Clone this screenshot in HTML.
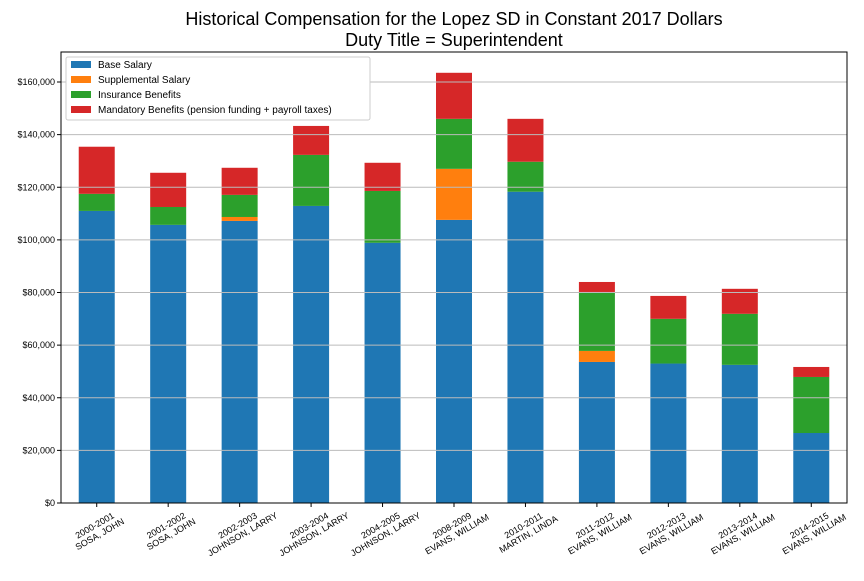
<!DOCTYPE html>
<html><head><meta charset="utf-8"><style>
body{margin:0;background:#fff;font-family:"Liberation Sans",sans-serif}
</style></head><body>
<svg id="chart" width="864" height="576" xmlns="http://www.w3.org/2000/svg" font-family="Liberation Sans, sans-serif">
<rect width="864" height="576" fill="#fff"/>
<text x="454" y="25" font-size="18" text-anchor="middle">Historical Compensation for the Lopez SD in Constant 2017 Dollars</text>
<text x="454" y="46" font-size="18" text-anchor="middle">Duty Title = Superintendent</text>
<g id="bars"></g><g id="grid"></g><g id="axes"></g>
</svg>
<script>
const categories=["2000-2001|SOSA, JOHN","2001-2002|SOSA, JOHN","2002-2003|JOHNSON, LARRY","2003-2004|JOHNSON, LARRY","2004-2005|JOHNSON, LARRY","2008-2009|EVANS, WILLIAM","2010-2011|MARTIN, LINDA","2011-2012|EVANS, WILLIAM","2012-2013|EVANS, WILLIAM","2013-2014|EVANS, WILLIAM","2014-2015|EVANS, WILLIAM"];
const baseSalary=[111000,105700,107200,112900,98900,107600,118300,53600,53000,52500,26600];
const supplementalSalary=[0,0,1500,0,0,19400,0,4200,0,0,0];
const insuranceBenefits=[6500,6800,8400,19400,19700,19000,11400,22400,17000,19400,21300];
const mandatoryBenefits=[17900,13000,10300,11000,10700,17500,16300,3800,8700,9500,3800];
const yTicks=[0,20000,40000,60000,80000,100000,120000,140000,160000];
const seriesNames=["Base Salary","Supplemental Salary","Insurance Benefits","Mandatory Benefits (pension funding + payroll taxes)"];
const colors=["#1f77b4","#ff7f0e","#2ca02c","#d62728"];
const NS="http://www.w3.org/2000/svg";
const L=61,R=847,T=52,B=503;
const y=v=>B-v*(B-82)/160000;
const step=(R-L)/categories.length;
const x=i=>L+step*(i+0.5);
const bw=36;
function mk(tag,attrs,parent){const e=document.createElementNS(NS,tag);for(const k in attrs)e.setAttribute(k,attrs[k]);parent.appendChild(e);return e;}
const gb=document.getElementById('bars'),gg=document.getElementById('grid'),ga=document.getElementById('axes');
const series=[baseSalary,supplementalSalary,insuranceBenefits,mandatoryBenefits];
const keys=["base","supplemental","insurance","mandatory"];
categories.forEach((c,i)=>{let cum=0;series.forEach((s,k)=>{const v=s[i];if(v>0){const r=mk('rect',{x:x(i)-bw/2,y:y(cum+v),width:bw,height:y(cum)-y(cum+v),fill:colors[k]},gb);

}cum+=v;});});
yTicks.forEach(t=>{if(t>0){const l=mk('line',{x1:L,x2:R,y1:y(t),y2:y(t),stroke:'#bbb','stroke-width':1},gg);

}
mk('line',{x1:L-4,x2:L,y1:y(t),y2:y(t),stroke:'#000'},ga);
const tx=mk('text',{x:L-6,y:y(t)+3,'font-size':9,'text-anchor':'end'},ga);tx.textContent='$'+t.toLocaleString('en-US');

});
mk('rect',{x:L,y:T,width:R-L,height:B-T,fill:'none',stroke:'#000','stroke-width':1},ga);
categories.forEach((c,i)=>{mk('line',{x1:x(i),x2:x(i),y1:B,y2:B+4,stroke:'#000'},ga);
const p=c.split('|');const g=mk('g',{transform:`translate(${x(i)},${B+26}) rotate(-30)`},ga);


const t1=mk('text',{x:0,y:-1,'font-size':9,'text-anchor':'middle'},g);t1.textContent=p[0];
const t2=mk('text',{x:0,y:9,'font-size':9,'text-anchor':'middle'},g);t2.textContent=p[1];});
const lg=mk('g',{},ga);


mk('rect',{x:66,y:57,width:304,height:63,fill:'#fff',stroke:'#ccc',rx:2},lg);
seriesNames.forEach((n,k)=>{mk('rect',{x:71,y:61+k*15,width:20,height:7,fill:colors[k]},lg);
const t=mk('text',{x:98,y:68+k*15,'font-size':10},lg);t.textContent=n;

});
</script>
</body></html>
